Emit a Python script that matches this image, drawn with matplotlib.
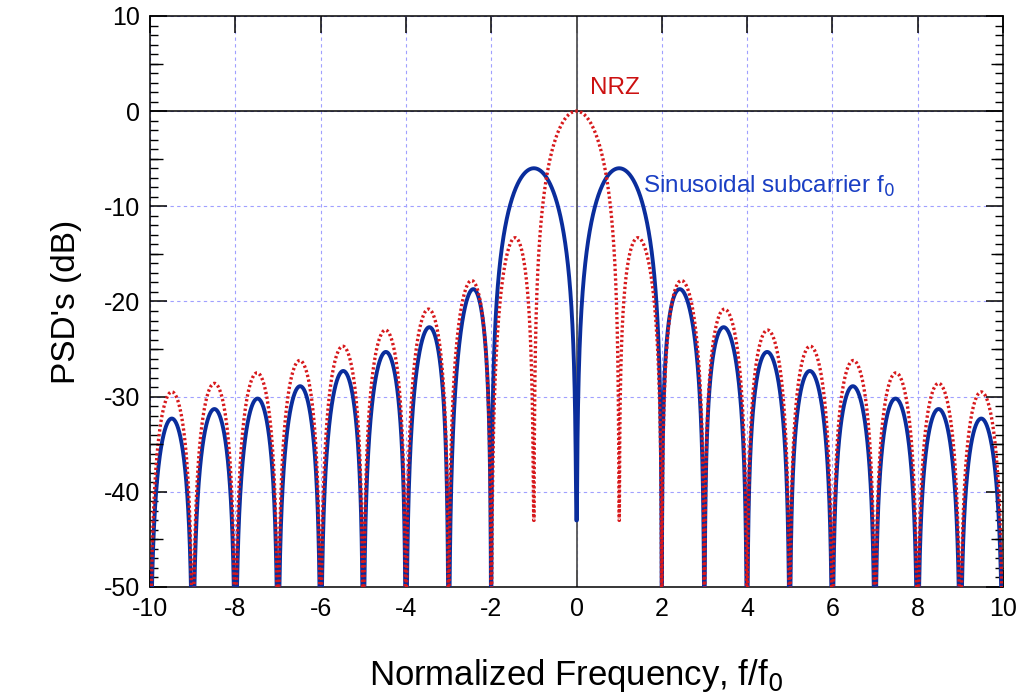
import numpy as np
import matplotlib
matplotlib.use('Agg')
from matplotlib import pyplot as plt
from matplotlib.ticker import MultipleLocator

plt.rcParams['font.family'] = ['Liberation Sans', 'DejaVu Sans']
plt.rcParams['axes.unicode_minus'] = False

# lobe edges (nulls), floor reached at each null, lobe peak position and level
red_nulls = [-10, -9, -8, -7, -6, -5, -4, -3, -2, -1, 1, 2, 3, 4, 5, 6, 7, 8, 9, 10]
red_floor = [-60, -60, -60, -60, -60, -60, -60, -60, -60, -43, -43, -60, -60, -60, -60, -60, -60, -60, -60, -60]
red_peak_x = [-9.49, -8.49, -7.49, -6.49, -5.48, -4.48, -3.47, -2.46, -1.44, 0.0,
              1.44, 2.46, 3.47, 4.48, 5.48, 6.49, 7.49, 8.49, 9.49]
red_peak_db = [-29.5, -28.6, -27.5, -26.2, -24.7, -23.0, -20.8, -17.8, -13.3, 0.0,
               -13.3, -17.8, -20.8, -23.0, -24.7, -26.2, -27.5, -28.6, -29.5]

blue_nulls = [-10, -9, -8, -7, -6, -5, -4, -3, -2, 0, 2, 3, 4, 5, 6, 7, 8, 9, 10]
blue_floor = [-60, -60, -60, -60, -60, -60, -60, -60, -60, -43, -60, -60, -60, -60, -60, -60, -60, -60, -60]
blue_peak_x = [-9.49, -8.49, -7.48, -6.48, -5.47, -4.47, -3.45, -2.42, -1.0,
               1.0, 2.42, 3.45, 4.47, 5.47, 6.48, 7.48, 8.49, 9.49]
blue_peak_db = [-32.3, -31.3, -30.2, -28.9, -27.3, -25.3, -22.7, -18.7, -6.0,
                -6.0, -18.7, -22.7, -25.3, -27.3, -28.9, -30.2, -31.3, -32.3]


def lobes(nulls, floors, peak_x, peak_db, n=500):
    xs = []
    ys = []
    for i in range(len(peak_x)):
        a, b = nulls[i], nulls[i + 1]
        x = np.linspace(a, b, n)
        t = (x - a) / (b - a)
        c = (peak_x[i] - a) / (b - a)
        p = np.log(0.5) / np.log(c)
        y = peak_db[i] + 10 * np.log10(np.sin(np.pi * t ** p) ** 2 + 1e-12)
        fl = np.where(t < c, floors[i], floors[i + 1])
        xs.append(x)
        ys.append(np.maximum(y, fl))
    return np.concatenate(xs), np.concatenate(ys)


fig = plt.figure(figsize=(10.22, 6.95), dpi=100)
ax = fig.add_axes([0.1468, 0.1554, 0.8346, 0.8216])

ax.set_xlim(-10, 10)
ax.set_ylim(-50, 10)
ax.xaxis.set_major_locator(MultipleLocator(2))
ax.yaxis.set_major_locator(MultipleLocator(10))
ax.yaxis.set_minor_locator(MultipleLocator(1))
ax.grid(True, which='major', color='#a0a0ff', linestyle=(0, (3, 3)), linewidth=0.8)
ax.axhline(0, color='black', linewidth=1.1, zorder=2)
ax.axvline(0, color='#555555', linewidth=1.3, zorder=2)

bx, by = lobes(blue_nulls, blue_floor, blue_peak_x, blue_peak_db)
rx, ry = lobes(red_nulls, red_floor, red_peak_x, red_peak_db)
ax.plot(bx, by, color='#0a2d9c', linewidth=2.8, zorder=3)
ax.plot(rx, ry, color='#d7191c', linewidth=2.4, linestyle=(0, (0.7, 0.75)),
        dash_capstyle='butt', zorder=4)

ax.text(0.32, 2.4, 'NRZ', color='#cc1111', fontsize=17.5, va='center', ha='left')
ax.text(1.56, -7.9, 'Sinusoidal subcarrier f$_0$', color='#1a3fc4', fontsize=17.5,
        va='center', ha='left')

# medium ticks at the 5 dB marks
ax2 = ax.twinx()
ax2.set_ylim(-50, 10)
ax2.set_yticks(np.arange(-45, 10, 10))
ax2.tick_params(direction='in', length=9, width=1.0, left=True, right=True,
                labelleft=False, labelright=False)
for s in ax2.spines.values():
    s.set_visible(False)

ax.tick_params(which='both', direction='in', top=True, right=True, left=True,
               labelsize=18, pad=7)
ax.tick_params(which='major', length=12, width=1.1)
ax.tick_params(which='minor', length=6, width=1.0)
ax.tick_params(axis='x', which='minor', length=0)
for s in ax.spines.values():
    s.set_linewidth(1.1)

ax.set_xlabel('Normalized Frequency, f/f$_0$', fontsize=25, labelpad=26)
ax.set_ylabel("PSD's (dB)", fontsize=24, labelpad=16)

fig.savefig('out.png', dpi=100)
